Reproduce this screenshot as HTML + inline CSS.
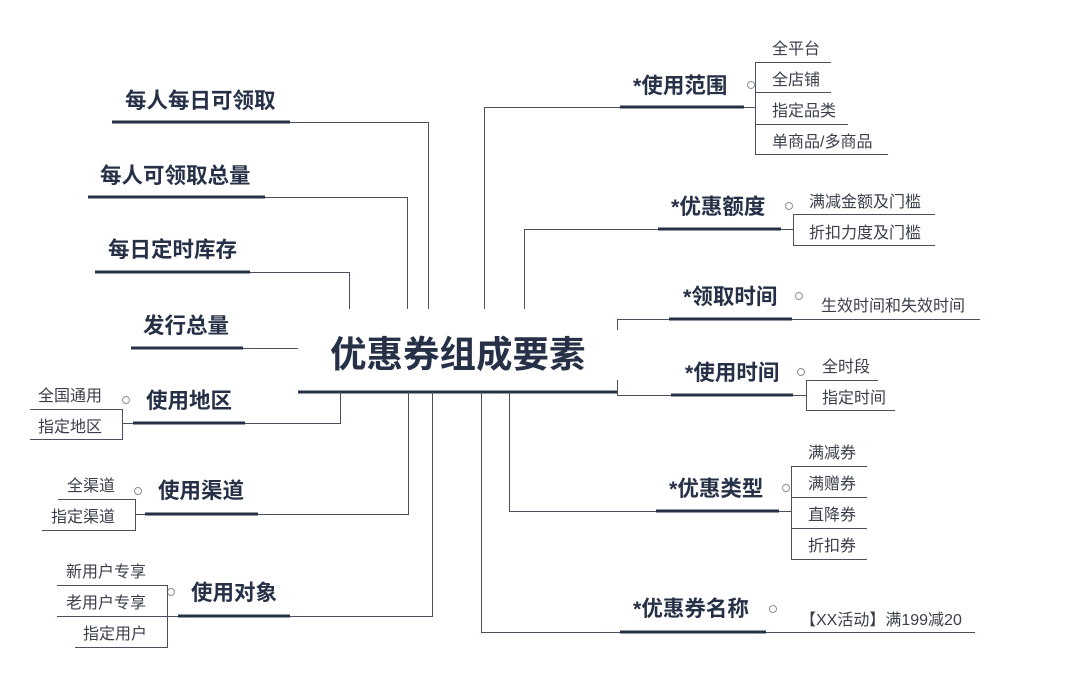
<!DOCTYPE html>
<html><head><meta charset="utf-8"><style>
html,body{margin:0;padding:0;background:#fff;}
svg{display:block;}
.h{font-family:"Liberation Sans","Noto Sans CJK SC",sans-serif;font-weight:bold;font-size:21.5px;fill:#263046;}
.c{font-family:"Liberation Sans","Noto Sans CJK SC",sans-serif;font-size:16px;fill:#3a3f4a;}
.l{stroke:#4a5060;stroke-width:1;fill:none;}
.u{stroke:#263046;stroke-width:3;}
.o{fill:#fff;stroke:#8a8f99;stroke-width:1;}
</style></head><body>
<svg width="1080" height="686" viewBox="0 0 1080 686" xmlns="http://www.w3.org/2000/svg">
<text x="330" y="367" style="font-family:'Liberation Sans','Noto Sans CJK SC',sans-serif;font-weight:bold;font-size:36.5px;fill:#263046">优惠券组成要素</text>
<line class="u" x1="298" y1="392" x2="617" y2="392"/>

<text class="h" x="125" y="108">每人每日可领取</text>
<line class="u" x1="112" y1="122" x2="290" y2="122"/>
<polyline class="l" points="290,122.5 428.5,122.5 428.5,309"/>
<text class="h" x="100" y="183">每人可领取总量</text>
<line class="u" x1="88" y1="197" x2="265" y2="197"/>
<polyline class="l" points="265,197.5 407.5,197.5 407.5,309"/>
<text class="h" x="108" y="257">每日定时库存</text>
<line class="u" x1="95" y1="272" x2="250" y2="272"/>
<polyline class="l" points="250,272.5 349.5,272.5 349.5,309"/>
<text class="h" x="143" y="333">发行总量</text>
<line class="u" x1="131" y1="348" x2="243" y2="348"/>
<line class="l" x1="243" y1="348.5" x2="298" y2="348.5"/>

<text class="h" x="146" y="408">使用地区</text>
<line class="u" x1="133" y1="423" x2="245" y2="423"/>
<polyline class="l" points="245,423.5 340.5,423.5 340.5,392"/>
<circle class="o" cx="126" cy="400" r="3.5"/>
<text class="c" x="38" y="401">全国通用</text>
<text class="c" x="38" y="432">指定地区</text>
<polyline class="l" points="30,409.5 122.5,409.5 122.5,439.5 30,439.5"/>
<line class="l" x1="122" y1="423.5" x2="133" y2="423.5"/>

<text class="h" x="158" y="498">使用渠道</text>
<line class="u" x1="145" y1="514" x2="258" y2="514"/>
<polyline class="l" points="258,514.5 408.5,514.5 408.5,392"/>
<circle class="o" cx="138" cy="491" r="3.5"/>
<text class="c" x="67" y="491">全渠道</text>
<text class="c" x="51" y="522">指定渠道</text>
<polyline class="l" points="58,499.5 135.5,499.5 135.5,530.5 42,530.5"/>
<line class="l" x1="135" y1="514.5" x2="145" y2="514.5"/>

<text class="h" x="191" y="600">使用对象</text>
<line class="u" x1="178" y1="616" x2="290" y2="616"/>
<polyline class="l" points="290,616.5 432.5,616.5 432.5,392"/>
<circle class="o" cx="171" cy="592" r="3.5"/>
<text class="c" x="66" y="577">新用户专享</text>
<text class="c" x="66" y="608">老用户专享</text>
<text class="c" x="83" y="639">指定用户</text>
<polyline class="l" points="57,585.5 167.5,585.5 167.5,647.5 75,647.5"/>
<line class="l" x1="57" y1="616.5" x2="178" y2="616.5"/>

<polyline class="l" points="484.5,309 484.5,107.5 620,107.5"/>
<text class="h" x="633" y="93">*使用范围</text>
<line class="u" x1="620" y1="107" x2="744" y2="107"/>
<circle class="o" cx="751" cy="85" r="3.5"/>
<text class="c" x="772" y="54">全平台</text>
<text class="c" x="772" y="85">全店铺</text>
<text class="c" x="772" y="116">指定品类</text>
<text class="c" x="772" y="147">单商品/多商品</text>
<line class="l" x1="755" y1="62.5" x2="831" y2="62.5"/>
<line class="l" x1="755" y1="92.5" x2="831" y2="92.5"/>
<line class="l" x1="755" y1="124.5" x2="848" y2="124.5"/>
<line class="l" x1="755" y1="154.5" x2="888" y2="154.5"/>
<line class="l" x1="755.5" y1="62" x2="755.5" y2="155"/>
<line class="l" x1="744" y1="107.5" x2="755" y2="107.5"/>

<polyline class="l" points="524.5,309 524.5,229.5 658,229.5"/>
<text class="h" x="671" y="214">*优惠额度</text>
<line class="u" x1="658" y1="229" x2="781" y2="229"/>
<circle class="o" cx="789" cy="206" r="3.5"/>
<text class="c" x="809" y="207">满减金额及门槛</text>
<text class="c" x="809" y="238">折扣力度及门槛</text>
<polyline class="l" points="935,214.5 793.5,214.5 793.5,245.5 935,245.5"/>
<line class="l" x1="781" y1="229.5" x2="793" y2="229.5"/>

<polyline class="l" points="617.5,330 617.5,319.5 669,319.5"/>
<text class="h" x="683" y="304">*领取时间</text>
<line class="u" x1="669" y1="319" x2="792" y2="319"/>
<circle class="o" cx="799" cy="296" r="3.5"/>
<text class="c" x="821" y="311">生效时间和失效时间</text>
<line class="l" x1="792" y1="319.5" x2="980" y2="319.5"/>

<polyline class="l" points="617.5,380 617.5,395.5 671,395.5"/>
<text class="h" x="685" y="380">*使用时间</text>
<line class="u" x1="671" y1="395" x2="793" y2="395"/>
<circle class="o" cx="801" cy="372" r="3.5"/>
<text class="c" x="822" y="372">全时段</text>
<text class="c" x="822" y="403">指定时间</text>
<polyline class="l" points="878,380.5 806.5,380.5 806.5,410.5 895,410.5"/>
<line class="l" x1="793" y1="395.5" x2="806" y2="395.5"/>

<polyline class="l" points="509.5,392 509.5,511.5 656,511.5"/>
<text class="h" x="669" y="496">*优惠类型</text>
<line class="u" x1="656" y1="511" x2="779" y2="511"/>
<circle class="o" cx="786" cy="488" r="3.5"/>
<text class="c" x="808" y="458">满减券</text>
<text class="c" x="808" y="489">满赠券</text>
<text class="c" x="808" y="520">直降券</text>
<text class="c" x="808" y="551">折扣券</text>
<line class="l" x1="791" y1="466.5" x2="867" y2="466.5"/>
<line class="l" x1="791" y1="497.5" x2="867" y2="497.5"/>
<line class="l" x1="791" y1="528.5" x2="867" y2="528.5"/>
<line class="l" x1="791" y1="559.5" x2="867" y2="559.5"/>
<line class="l" x1="791.5" y1="466" x2="791.5" y2="560"/>
<line class="l" x1="779" y1="511.5" x2="791" y2="511.5"/>

<polyline class="l" points="481.5,392 481.5,632.5 620,632.5"/>
<text class="h" x="633" y="616">*优惠券名称</text>
<line class="u" x1="620" y1="632" x2="766" y2="632"/>
<circle class="o" cx="773" cy="609" r="3.5"/>
<text class="c" x="800" y="625">【XX活动】满199减20</text>
<line class="l" x1="766" y1="632.5" x2="975" y2="632.5"/>
</svg>
</body></html>
